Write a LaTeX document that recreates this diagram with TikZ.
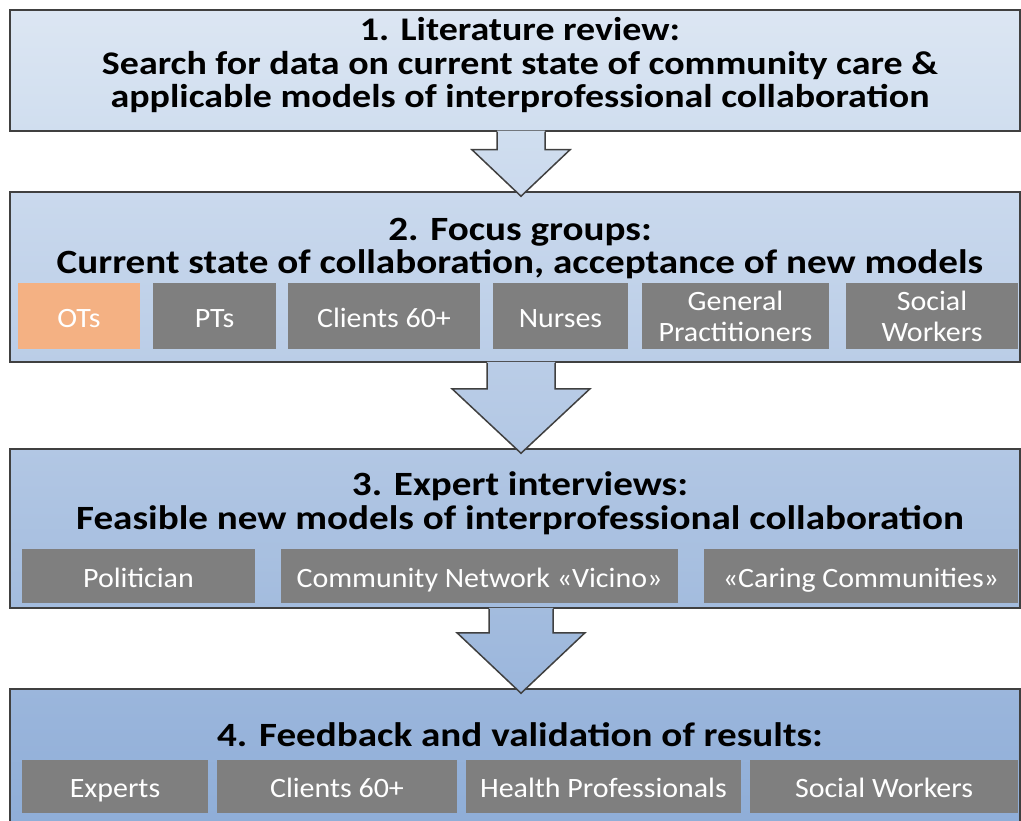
\documentclass[tikz,border=0pt]{standalone}
\usepackage{fontspec}
\setmainfont{Carlito}
\newfontfamily\titlefont{Carlito}[FakeStretch=1.15]
\newfontfamily\groupfont{Carlito}[FakeStretch=1.07]
\usetikzlibrary{calc}
\definecolor{stageline}{HTML}{404040}
\definecolor{groupgrey}{HTML}{7F7F7F}
\definecolor{groupot}{HTML}{F4B183}
\definecolor{litA}{HTML}{DCE6F3}
\definecolor{litB}{HTML}{D0DEEF}
\definecolor{focusA}{HTML}{CAD9ED}
\definecolor{focusB}{HTML}{BACDE7}
\definecolor{expertA}{HTML}{B2C7E4}
\definecolor{expertB}{HTML}{A3BCDE}
\definecolor{feedA}{HTML}{9BB6DC}
\definecolor{feedB}{HTML}{8EADD7}

\tikzset{
  stage/.style={draw=stageline, line width=1.5pt, minimum width=1010pt, inner sep=0pt},
  title/.style={font=\titlefont\bfseries\fontsize{34}{33.5}\selectfont, align=center, anchor=base, inner sep=0pt},
  group/.style={fill=groupgrey, text=white, font=\groupfont\fontsize{28}{31}\selectfont, align=center, inner sep=0pt},
  oneline/.style={text height=24pt, text depth=2pt}
}

\begin{document}
\begin{tikzpicture}[x=1pt, y=-1pt]
      \useasboundingbox (0,0) rectangle (1021,821);
      \clip (0,0) rectangle (1021,821);

      % The four stages
      \node[stage, minimum height=121pt, top color=litA, bottom color=litB] (lit) at (515,70.5) {};
      \node[stage, minimum height=170pt, top color=focusA, bottom color=focusB] (focus) at (515,277) {};
      \node[stage, minimum height=159pt, top color=expertA, bottom color=expertB] (expert) at (515,528.5) {};
      \node[stage, minimum height=146pt, top color=feedA, bottom color=feedB] (feedback) at (515,762) {};

      % Block arrows between the stages
      \foreach \from/\to/\s/\h/\d/\ta/\tb in {lit/focus/24/49/19/litB/focusA, focus/expert/34/69/27/focusB/expertA, expert/feedback/32/64/25/expertB/feedA}{
        \coordinate (top) at ($(\from.south)+(6,-1)$);
        \coordinate (tip) at ($(\to.north)+(6,5)$);
        \shade[top color=\ta, bottom color=\tb] ($(top)+(-\s,0)$) -- ($(top)+(-\s,\d)$) -- ($(top)+(-\h,\d)$) -- (tip)
          -- ($(top)+(\h,\d)$) -- ($(top)+(\s,\d)$) -- ($(top)+(\s,0)$) -- cycle;
        \draw[stageline, line width=1.5pt] ($(top)+(-\s,1)$) -- ($(top)+(-\s,\d)$) -- ($(top)+(-\h,\d)$) -- (tip)
          -- ($(top)+(\h,\d)$) -- ($(top)+(\s,\d)$) -- ($(top)+(\s,1)$);
      }

      % Titles (anchored at the baseline of their last line)
      \node[title, font=\titlefont\bfseries\fontsize{33}{33.5}\selectfont] (littitle) at (520,108) {1. Literature review:\\Search for data on current state of community care \&\\applicable models of interprofessional collaboration};
      \node[title] (focustitle) at (520,274) {2. Focus groups:\\Current state of collaboration, acceptance of new models};
      \node[title] (experttitle) at (520,529) {3. Expert interviews:\\Feasible new models of interprofessional collaboration};
      \node[title] (feedtitle) at (520,746) {4. Feedback and validation of results:};

      % Focus group participants
      \node[group, oneline, fill=groupot, minimum width=122pt, minimum height=66pt] (ots) at (79,316) {OTs};
      \foreach \n/\cx/\w/\txt in {pts/214.5/123/PTs, clients/384/192/Clients 60+, nurses/560.5/135/Nurses}{
        \node[group, oneline, minimum width=\w pt, minimum height=66pt] (\n) at (\cx,316) {\txt};
      }
      \node[group, minimum width=187pt, minimum height=66pt] (gps) at (735.5,316) {General\\Practitioners};
      \node[group, minimum width=172pt, minimum height=66pt] (social) at (932,316) {Social\\Workers};

      % Expert interviews
      \foreach \n/\cx/\w/\txt in {politician/138.5/233/Politician, vicino/479.5/397/Community Network «Vicino»,
          caring/861/314/«Caring Communities»}{
        \node[group, oneline, minimum width=\w pt, minimum height=54pt] (\n) at (\cx,576) {\txt};
      }

      % Feedback and validation
      \foreach \n/\cx/\w/\txt in {experts/115/186/Experts, fbclients/337/240/Clients 60+,
          health/603.5/275/Health Professionals, fbsocial/884/268/Social Workers}{
        \node[group, oneline, minimum width=\w pt, minimum height=53pt] (\n) at (\cx,786.5) {\txt};
      }
\end{tikzpicture}
\end{document}
